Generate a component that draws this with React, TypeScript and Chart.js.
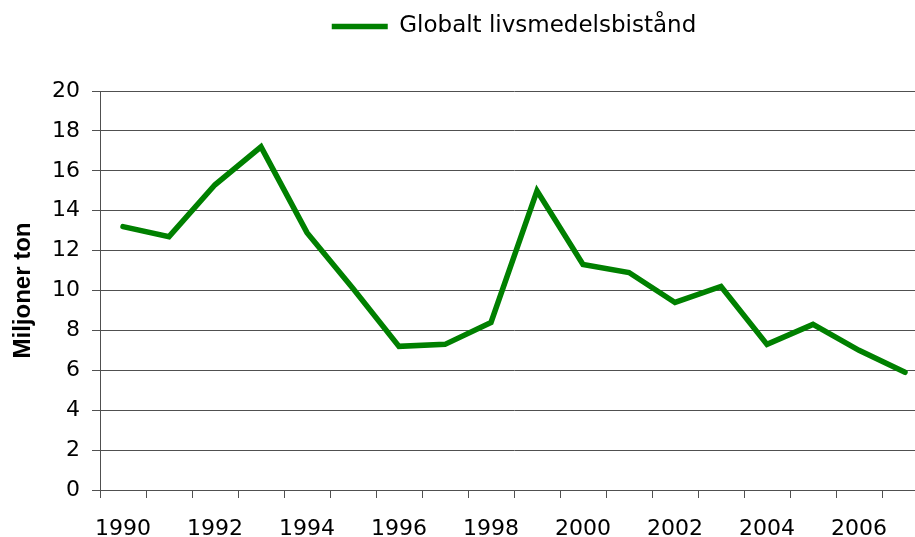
import React, { useEffect, useRef } from "react";
import { Chart, registerables } from "chart.js";

Chart.register(...registerables);

// ---- data ----
const years: string[] = [
  "1990", "1991", "1992", "1993", "1994", "1995", "1996", "1997", "1998",
  "1999", "2000", "2001", "2002", "2003", "2004", "2005", "2006", "2007",
];
const foodAid: number[] = [
  13.2, 12.7, 15.3, 17.2, 12.9, 10.1, 7.2, 7.3, 8.4,
  15.0, 11.3, 10.9, 9.4, 10.2, 7.3, 8.3, 7.0, 5.9,
];
const seriesLabel = "Globalt livsmedelsbistånd";
const yAxisTitle = "Miljoner ton";
const yMin = 0;
const yMax = 20;
const yStep = 2;

const GRID = "#505050";
const GREEN = "#008000";

export default function App() {
  const ref = useRef<HTMLCanvasElement | null>(null);

  useEffect(() => {
    if (!ref.current) return;
    const chart = new Chart(ref.current, {
      type: "line",
      data: {
        labels: years,
        datasets: [
          {
            label: seriesLabel,
            data: foodAid,
            borderColor: GREEN,
            backgroundColor: GREEN,
            borderWidth: 5.5,
            pointRadius: 0,
            pointHoverRadius: 0,
            tension: 0,
            borderJoinStyle: "miter",
            borderCapStyle: "round",
            fill: false,
          },
        ],
      },
      options: {
        responsive: false,
        animation: false,
        devicePixelRatio: 1,
        layout: { padding: { left: 0, right: 2, top: 0, bottom: 0 } },
        plugins: {
          legend: {
            position: "top",
            fullSize: false,
            labels: {
              font: { family: "'DejaVu Sans'", size: 23 },
              color: "#000",
              boxWidth: 56,
              boxHeight: 0,
              padding: 15,
            },
          },
          subtitle: {
            display: true,
            text: " ",
            position: "top",
            weight: 500,
            padding: 0,
            font: { size: 43, lineHeight: 1 },
          } as any,
          tooltip: { enabled: false },
        },
        scales: {
          x: {
            offset: true,
            grid: {
              offset: true,
              drawOnChartArea: false,
              drawTicks: true,
              tickLength: 8,
              color: GRID,
            },
            border: { color: GRID, width: 1 },
            ticks: {
              autoSkip: false,
              maxRotation: 0,
              minRotation: 0,
              padding: 18,
              color: "#000",
              font: { family: "'DejaVu Sans'", size: 22 },
              callback: (_v: any, i: number) => (i % 2 === 0 ? years[i] : ""),
            },
            afterFit: (s: any) => {
              s.height = 47;
            },
          },
          y: {
            min: yMin,
            max: yMax,
            ticks: {
              stepSize: yStep,
              padding: 12,
              color: "#000",
              font: { family: "'DejaVu Sans'", size: 22 },
            },
            grid: { color: GRID, tickLength: 8, lineWidth: 1 },
            border: { color: GRID, width: 1 },
            title: {
              display: true,
              text: yAxisTitle,
              color: "#000",
              font: { family: "'Liberation Sans', Arial", size: 24, weight: "bold" },
              padding: { top: 9, bottom: 0 },
            },
            afterFit: (s: any) => {
              s.width = 100;
            },
          },
        },
      },
    });
    return () => chart.destroy();
  }, []);

  return (
    <div
      style={{
        position: "fixed",
        left: 0,
        top: 0,
        width: 915,
        height: 537,
        overflow: "hidden",
        background: "#fff",
      }}
    >
      <canvas ref={ref} width={930} height={537} style={{ display: "block" }} />
    </div>
  );
}
